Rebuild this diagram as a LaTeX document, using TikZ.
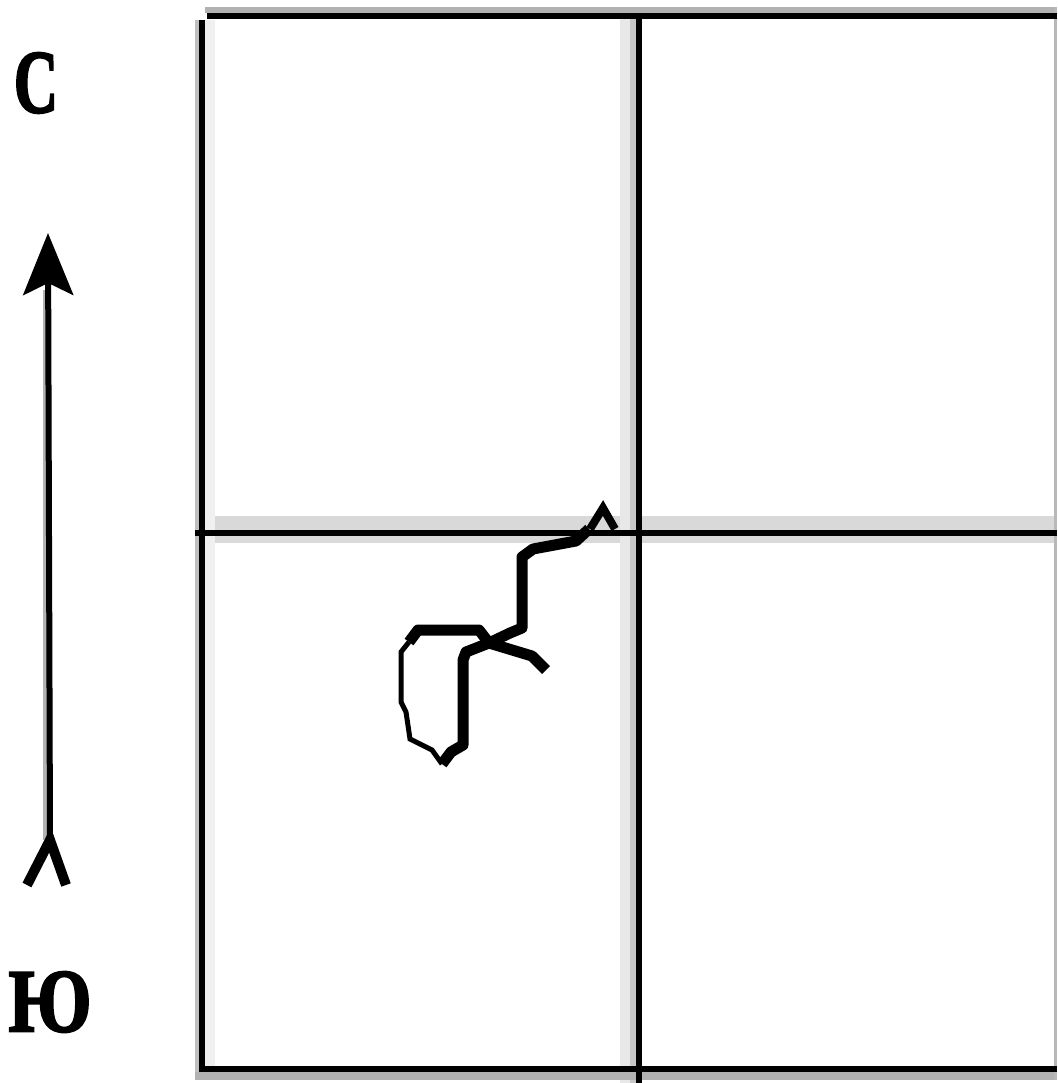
\documentclass[tikz,border=0pt]{standalone}
\usepackage{fontspec}
\setmainfont{Liberation Serif}
\newfontfamily\labelfont[FakeBold=2.5]{Liberation Serif Bold}
\usetikzlibrary{arrows.meta}
\usetikzlibrary{positioning}

\begin{document}
\begin{tikzpicture}[x=1pt, y=-1pt, every node/.style={inner sep=0pt, font=\labelfont\fontsize{90}{90}\selectfont},
    gridline/.style={line width=6pt}, route/.style={line width=11pt, line join=round}, thin route/.style={line width=5pt}]
        \useasboundingbox (0,0) rectangle (1057,1083);

        % grey blur round the grid lines
        \fill[black!15] (195,516) rectangle (1057,543);
        \fill[black!9] (620,10) rectangle (637,1083);
        \fill[black!22] (630,10) rectangle (637,1083);
        \fill[black!25] (195,20) rectangle (200,1075);
        \fill[black!6] (205,20) rectangle (215,1066);
        \fill[black!30] (205,7) rectangle (1057,13);
        \fill[black!30] (195,1072) rectangle (1057,1080);
        \fill[black!28] (1054,7) rectangle (1057,1080);

        % grid
        \draw[gridline] (202,20) -- (202,1069) -- (1057,1069);
        \draw[gridline] (207,16.5) -- (1057,16.5);
        \draw[gridline] (195,532.5) -- (1057,532.5);
        \draw[gridline] (638.5,16) -- (638.5,1083);

        % route
        \coordinate (start) at (589,529);
        \coordinate (junction) at (489,643);
        \draw[line width=8pt] (590,529) -- (603,508) -- (615,529);
        \draw[route] (start) -- (576,541) -- (533,549) -- (522,557) -- (522,628) -- (510,633) -- (junction);
        \draw[route] (junction) -- (532,656) -- (546,670);
        \draw[route] (junction) -- (466,652) -- (463,660) -- (463,745) -- (451,752) -- (442,764);
        \draw[thin route] (442,764) -- (432,750) -- (410,739) -- (406,712) -- (401,702) -- (401,652) -- (409,642);
        \draw[route] (409,642) -- (418,630) -- (479,630) -- (junction);

        % north arrow
        \node (north) at (36,83) {\scalebox{0.68}[1]{С}};
        \node (south) at (50,1002) {\scalebox{0.82}[1]{Ю}};
        \coordinate (tail) at (50,840);
        \coordinate (tip) at (48,233);
        \fill[black!30] (43,290) rectangle (48,840);
        \draw[line width=6pt, -{Stealth[length=62pt, width=50pt, inset=12pt]}] (tail) -- (tip);
        \draw[line width=10pt] (27,885) -- (tail) -- (66,885);
      \end{tikzpicture}
\end{document}
